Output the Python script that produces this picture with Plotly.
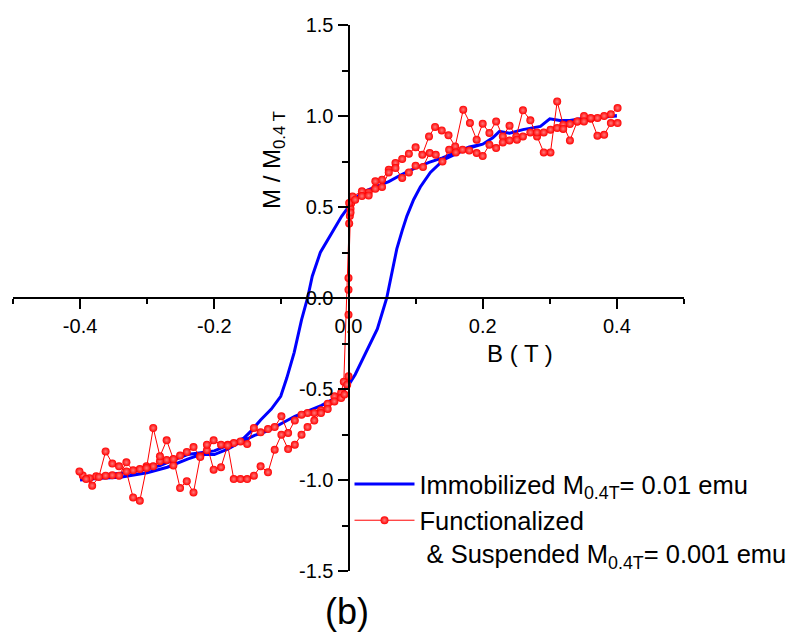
import plotly.graph_objects as go

# ---- Immobilized sample (blue loop) ----
B_immo_down = [0.400, 0.380, 0.355, 0.330, 0.315, 0.300, 0.286, 0.260, 0.240, 0.225, 0.215,
               0.200, 0.180, 0.160, 0.140, 0.120, 0.100, 0.080, 0.060, 0.040, 0.020, 0.005,
               0.000, -0.010, -0.022, -0.032, -0.042, -0.054, -0.061, -0.070, -0.081, -0.092,
               -0.101, -0.115, -0.131, -0.145, -0.156, -0.180, -0.200, -0.220, -0.240, -0.260,
               -0.280, -0.300, -0.330, -0.360, -0.380, -0.400]
M_immo_down = [1.000, 0.995, 0.990, 0.975, 0.975, 0.985, 0.943, 0.925, 0.905, 0.915, 0.880,
               0.845, 0.830, 0.800, 0.770, 0.745, 0.715, 0.680, 0.640, 0.610, 0.580, 0.530,
               0.500, 0.450, 0.375, 0.320, 0.250, 0.120, 0.000, -0.120, -0.300, -0.440,
               -0.540, -0.610, -0.670, -0.730, -0.770, -0.810, -0.840, -0.850, -0.860, -0.890,
               -0.920, -0.940, -0.960, -0.970, -0.985, -1.000]
B_immo_up = [-0.400, -0.370, -0.340, -0.300, -0.270, -0.240, -0.220, -0.200, -0.180, -0.160,
             -0.140, -0.120, -0.100, -0.080, -0.060, -0.040, -0.020, 0.000, 0.010, 0.018,
             0.030, 0.043, 0.057, 0.065, 0.072, 0.080, 0.087, 0.097, 0.107, 0.122, 0.142,
             0.165, 0.185, 0.200, 0.215, 0.225, 0.240, 0.260, 0.286, 0.300, 0.315, 0.330,
             0.355, 0.380, 0.400]
M_immo_up = [-1.000, -0.990, -0.985, -0.960, -0.930, -0.885, -0.860, -0.860, -0.830, -0.790,
             -0.755, -0.730, -0.690, -0.650, -0.620, -0.590, -0.550, -0.480, -0.420, -0.360,
             -0.270, -0.170, 0.000, 0.150, 0.270, 0.370, 0.450, 0.540, 0.610, 0.690, 0.760,
             0.800, 0.830, 0.845, 0.880, 0.915, 0.905, 0.925, 0.943, 0.985, 0.975, 0.975,
             0.990, 0.995, 1.000]

# ---- Functionalized & suspended sample (red points) ----
B_func_down = [0.401, 0.391, 0.381, 0.371, 0.361, 0.351, 0.341, 0.330, 0.320, 0.311, 0.301,
               0.291, 0.281, 0.271, 0.260, 0.250, 0.240, 0.230, 0.220, 0.210, 0.200, 0.191,
               0.181, 0.171, 0.159, 0.149, 0.139, 0.129, 0.120, 0.110, 0.100, 0.090, 0.080,
               0.070, 0.060, 0.050, 0.040, 0.030, 0.020, 0.006, 0.004, 0.003, 0.002, 0.001,
               -0.007, -0.011, -0.021, -0.031, -0.041, -0.051, -0.061, -0.070, -0.080, -0.090,
               -0.100, -0.110, -0.120, -0.131, -0.141, -0.151, -0.161, -0.171, -0.180, -0.190,
               -0.201, -0.211, -0.221, -0.231, -0.241, -0.251, -0.261, -0.271, -0.281, -0.291,
               -0.301, -0.311, -0.321, -0.331, -0.342, -0.352, -0.362, -0.376, -0.386, -0.396]
M_func_down = [1.044, 1.010, 1.000, 0.989, 0.985, 1.000, 0.970, 0.866, 0.952, 1.080, 0.800,
               0.800, 0.888, 0.976, 1.031, 0.888, 0.947, 0.888, 0.970, 0.907, 0.958, 0.870,
               0.962, 1.035, 0.833, 0.894, 0.921, 0.940, 0.888, 0.787, 0.828, 0.793, 0.764,
               0.742, 0.705, 0.650, 0.641, 0.580, 0.586, 0.558, 0.520, 0.490, 0.450, 0.410,
               -0.460, -0.520, -0.540, -0.581, -0.617, -0.632, -0.632, -0.641, -0.673, -0.742,
               -0.650, -0.709, -0.720, -0.738, -0.714, -0.802, -0.788, -0.797, -0.806, -0.806,
               -0.782, -0.837, -0.870, -0.819, -0.846, -0.866, -0.920, -0.890, -0.897, -0.925,
               -0.925, -0.940, -0.947, -0.903, -0.976, -0.974, -0.976, -0.980, -0.990, -0.975]
B_func_up = [-0.401, -0.391, -0.382, -0.372, -0.362, -0.352, -0.342, -0.331, -0.321, -0.311,
             -0.301, -0.291, -0.281, -0.271, -0.261, -0.251, -0.241, -0.231, -0.221, -0.211,
             -0.201, -0.190, -0.180, -0.171, -0.161, -0.151, -0.141, -0.131, -0.120, -0.110,
             -0.100, -0.090, -0.080, -0.070, -0.061, -0.051, -0.041, -0.031, -0.021, -0.011,
             -0.006, -0.002, 0.000, 0.000, 0.000, 0.000, 0.003, 0.001, 0.010, 0.020, 0.030,
             0.040, 0.050, 0.060, 0.070, 0.080, 0.090, 0.100, 0.111, 0.121, 0.130, 0.140,
             0.150, 0.160, 0.170, 0.180, 0.191, 0.200, 0.210, 0.220, 0.230, 0.240, 0.251,
             0.260, 0.271, 0.281, 0.291, 0.301, 0.311, 0.320, 0.330, 0.341, 0.351, 0.361,
             0.371, 0.381, 0.391, 0.401]
M_func_up = [-0.953, -0.995, -1.031, -0.983, -0.843, -0.910, -0.925, -0.953, -1.096, -1.114,
             -0.934, -0.714, -0.870, -0.782, -0.885, -1.044, -1.007, -1.068, -0.874, -0.806,
             -0.943, -0.930, -0.810, -0.995, -0.995, -0.995, -0.976, -0.925, -0.958, -0.834,
             -0.751, -0.830, -0.806, -0.751, -0.709, -0.673, -0.632, -0.610, -0.568, -0.550,
             -0.530, -0.476, -0.430, -0.092, 0.046, 0.110, 0.470, 0.522, 0.540, 0.560, 0.563,
             0.600, 0.610, 0.690, 0.714, 0.660, 0.690, 0.727, 0.720, 0.797, 0.787, 0.750,
             0.815, 0.800, 0.815, 0.810, 0.797, 0.780, 0.842, 0.824, 0.855, 0.866, 0.870,
             0.888, 0.910, 0.910, 0.910, 0.925, 0.934, 0.929, 0.956, 0.970, 0.970, 0.989,
             0.892, 0.897, 0.961, 0.961]

# ---- Axis ticks ----
x_tickvals = [-0.4, -0.2, 0.0, 0.2, 0.4]
x_ticktext = ["-0.4", "-0.2", "0.0", "0.2", "0.4"]
x_minorvals = [-0.5, -0.3, -0.1, 0.1, 0.3, 0.5]
y_tickvals = [-1.5, -1.0, -0.5, 0.0, 0.5, 1.0, 1.5]
y_ticktext = ["-1.5", "-1.0", "-0.5", "0.0", "0.5", "1.0", "1.5"]
y_minorvals = [-1.25, -0.75, -0.25, 0.25, 0.75, 1.25]

FONT = "Liberation Sans, Arial, sans-serif"

fig = go.Figure()

fig.add_trace(go.Scatter(
    x=B_immo_down + B_immo_up, y=M_immo_down + M_immo_up,
    mode="lines", line=dict(color="#0000ff", width=3),
    name="Immobilized M<sub>0.4T</sub>= 0.01 emu",
))
fig.add_trace(go.Scatter(
    x=B_func_down + B_func_up, y=M_func_down + M_func_up,
    mode="lines+markers", line=dict(color="#ff0000", width=1),
    marker=dict(size=8, color="#ff0000",
                gradient=dict(type="radial", color="#ff7a7a"),
                line=dict(width=0)),
    name="Functionalized<br>\u00a0& Suspended M<sub>0.4T</sub>= 0.001 emu",
))

axis_common = dict(
    showline=True, linecolor="black", linewidth=2,
    ticks="outside", tickcolor="black", tickwidth=2, ticklen=10,
    showgrid=False, zeroline=False,
    tickfont=dict(family=FONT, size=20, color="black"),
    anchor="free", position=0.5,
)

# plot-area margins in pixels
L, R, T, Bm = 13, 105, 25, 61
W, H = 789, 632
pw, ph = W - L - R, H - T - Bm


def px_x(px):
    return (px - L) / pw


def px_y(py):
    return (H - Bm - py) / ph


fig.update_layout(
    width=W, height=H,
    margin=dict(l=L, r=R, t=T, b=Bm, autoexpand=False),
    paper_bgcolor="white", plot_bgcolor="white",
    font=dict(family=FONT, color="black"),
    xaxis=dict(range=[-0.5, 0.5], tickmode="array", tickvals=x_tickvals, ticktext=x_ticktext,
               minor=dict(tickmode="array", tickvals=x_minorvals, ticks="outside",
                          ticklen=5, tickwidth=2, tickcolor="black"),
               **axis_common),
    yaxis=dict(range=[-1.5, 1.5], tickmode="array", tickvals=y_tickvals, ticktext=y_ticktext,
               minor=dict(tickmode="array", tickvals=y_minorvals, ticks="outside",
                          ticklen=6, tickwidth=2, tickcolor="black"),
               **axis_common),
    showlegend=True,
    legend=dict(x=px_x(349.5), y=px_y(461), xanchor="left", yanchor="top",
                bgcolor="rgba(0,0,0,0)", borderwidth=0,
                font=dict(family=FONT, size=25.5, color="black"),
                itemwidth=60, valign="top", tracegroupgap=0),
    annotations=[
        dict(text="B ( T )", x=px_x(520), y=px_y(353), xref="paper", yref="paper",
             xanchor="center", yanchor="middle", showarrow=False,
             font=dict(family=FONT, size=24, color="black")),
        dict(text="M / M<sub>0.4 T</sub>", x=px_x(273), y=px_y(160), xref="paper", yref="paper",
             xanchor="center", yanchor="middle", showarrow=False, textangle=-90,
             font=dict(family=FONT, size=24, color="black")),
        dict(text="(b)", x=px_x(347), y=px_y(611), xref="paper", yref="paper",
             xanchor="center", yanchor="middle", showarrow=False,
             font=dict(family=FONT, size=36, color="black")),
    ],
)

fig.write_html("out.html")
